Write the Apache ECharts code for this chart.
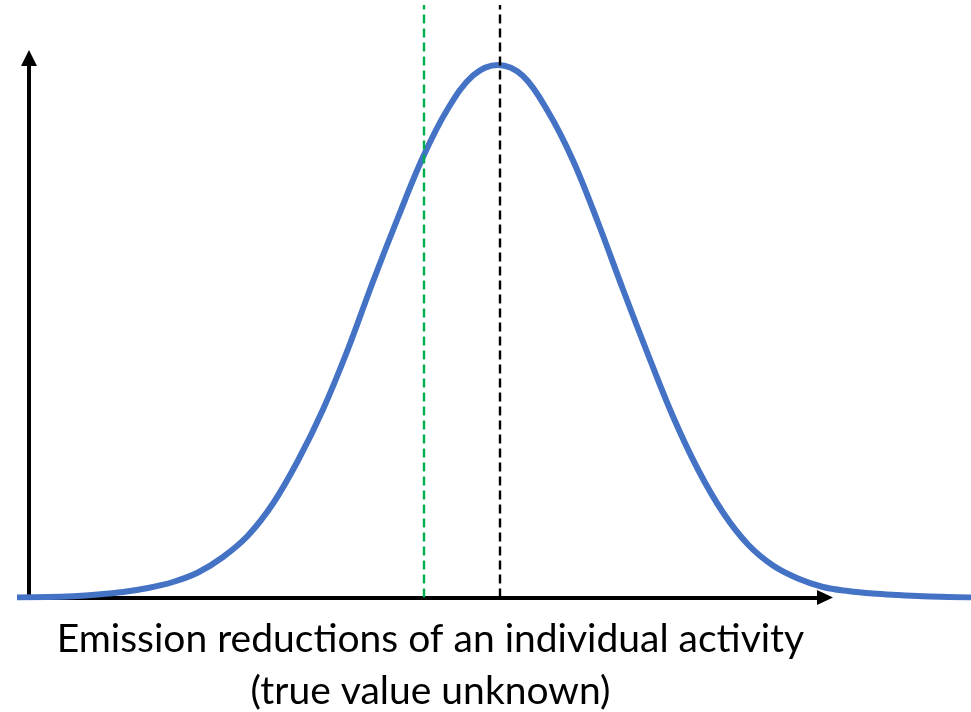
<!DOCTYPE html>
<html>
<head>
<meta charset="utf-8">
<script src="https://cdn.jsdelivr.net/npm/echarts@6/dist/echarts.min.js"></script>
<style>
  html, body { margin: 0; padding: 0; background: #fff; }
  #chart { width: 971px; height: 712px; }
</style>
</head>
<body>
<div id="chart"></div>
<script>
// curve (position along the axis, height)
const curveX = [-12, 19, 44, 69, 94, 119, 144, 169, 194, 219, 244, 269, 294, 319, 344, 369, 394, 419, 444, 469,
  494, 519, 544, 569, 594, 619, 644, 669, 694, 719, 744, 769, 794, 819, 844, 869, 894, 919, 942];
const curveY = [0, 0.4, 1.3, 3, 5.5, 9.5, 15.5, 25, 40.5, 62, 94, 137, 188, 248.5, 316, 380, 440.5, 489, 522, 532.5,
  521.5, 486, 437, 375, 308, 243, 181, 128, 85, 53, 32, 19, 10.5, 6.5, 4, 2.5, 1.3, 0.6, 0];

// the two vertical dashed markers (estimate, true value)
const markerX = [395, 471];

const axisMaxX = 796;
const axisMaxY = 539.5;
const axisTitle = 'Emission reductions of an individual activity\n(true value unknown)';

const chart = echarts.init(document.getElementById('chart'));

const hidden = {
  axisLine: { show: false },
  axisTick: { show: false },
  axisLabel: { show: false },
  splitLine: { show: false }
};

const option = {
  animation: false,
  // grid 0 holds the arrowed axes, grid 1 (same scale, wider) holds the curve
  grid: [
    { left: 29, right: 146, top: 58, bottom: 114.5, containLabel: false, outerBoundsMode: 'none' },
    { left: 17, right: 0, top: 5, bottom: 114.5, containLabel: false, outerBoundsMode: 'none' }
  ],
  xAxis: [
    {
      gridIndex: 0,
      type: 'value',
      min: 0,
      max: axisMaxX,
      name: axisTitle,
      nameLocation: 'middle',
      nameGap: 16,
      nameTextStyle: {
        color: '#000',
        fontFamily: 'Lato',
        fontSize: 39,
        lineHeight: 52,
        padding: [0, 0, 0, 7]
      },
      axisLine: {
        show: true,
        symbol: ['none', 'triangle'],
        symbolSize: [15, 16],
        lineStyle: { color: '#000', width: 4 }
      },
      axisTick: { show: false },
      axisLabel: { show: false },
      splitLine: { show: false }
    },
    Object.assign({ gridIndex: 1, type: 'value', min: -12, max: 942 }, hidden)
  ],
  yAxis: [
    {
      gridIndex: 0,
      type: 'value',
      min: 0,
      max: axisMaxY,
      axisLine: {
        show: true,
        symbol: ['none', 'triangle'],
        symbolSize: [16, 16],
        lineStyle: { color: '#000', width: 4 }
      },
      axisTick: { show: false },
      axisLabel: { show: false },
      splitLine: { show: false }
    },
    Object.assign({ gridIndex: 1, type: 'value', min: 0, max: 592.5 }, hidden)
  ],
  series: [
    {
      type: 'line',
      xAxisIndex: 1,
      yAxisIndex: 1,
      data: curveX.map((x, i) => [x, curveY[i]]),
      smooth: 0.35,
      showSymbol: false,
      lineStyle: { color: '#4472C4', width: 6 },
      markLine: {
        silent: true,
        symbol: 'none',
        label: { show: false },
        data: [
          [
            { coord: [markerX[0], 0], lineStyle: { color: '#00B050', width: 2.4, type: [9, 5] } },
            { coord: [markerX[0], 592.5] }
          ],
          [
            { coord: [markerX[1], 0], lineStyle: { color: '#000', width: 2.4, type: [9, 5] } },
            { coord: [markerX[1], 592.5] }
          ]
        ]
      }
    }
  ]
};

chart.setOption(option);
</script>
</body>
</html>
